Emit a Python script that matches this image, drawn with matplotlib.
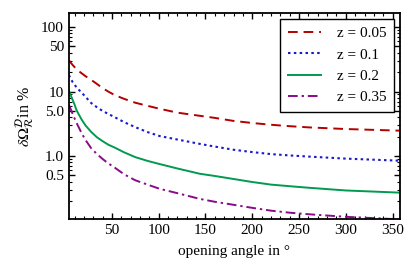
import matplotlib
matplotlib.use("Agg")
import matplotlib.pyplot as plt
from matplotlib.ticker import FixedLocator, FixedFormatter, MultipleLocator, LogLocator, NullFormatter

plt.rcParams['font.family'] = ['Liberation Serif', 'DejaVu Serif']
plt.rcParams['mathtext.fontset'] = 'stix'

# opening angle (degrees) and relative error in percent
angle = [4, 6, 8, 10, 12, 15, 18, 22, 28, 34, 40, 46, 53, 63, 75, 88, 101, 120,
         144, 160, 180, 200, 220, 240, 260, 300, 358]
err_005 = [30.5, 28.0, 25.8, 24.0, 22.3, 20.5, 19.0, 17.2, 15.1, 13.1, 11.3, 10.0, 8.8, 7.7,
           6.7, 6.0, 5.4, 4.7, 4.2, 3.9, 3.5, 3.25, 3.05, 2.9, 2.78, 2.62, 2.47]
err_01 = [18.0, 15.8, 14.0, 12.8, 11.7, 10.5, 9.5, 8.2, 6.6, 5.7, 5.0, 4.5, 4.0, 3.35,
          2.8, 2.35, 2.04, 1.8, 1.54, 1.4, 1.25, 1.15, 1.07, 1.02, 0.98, 0.91, 0.845]
err_02 = [10.2, 8.7, 7.4, 6.3, 5.2, 4.3, 3.6, 2.95, 2.35, 1.95, 1.7, 1.5, 1.35, 1.14,
          0.96, 0.84, 0.75, 0.64, 0.53, 0.49, 0.44, 0.395, 0.36, 0.34, 0.322, 0.292, 0.27]
err_035 = [6.2, 5.3, 4.5, 3.85, 3.3, 2.7, 2.2, 1.75, 1.31, 1.07, 0.9, 0.77, 0.66, 0.52,
           0.42, 0.36, 0.31, 0.265, 0.216, 0.195, 0.175, 0.157, 0.142, 0.132, 0.125, 0.114, 0.104]

labels = ['z = 0.05', 'z = 0.1', 'z = 0.2', 'z = 0.35']
yticks = [0.5, 1.0, 5.0, 10, 50, 100]
ytick_labels = ['0.5', '1.0', '5.0', '10', '50', '100']
xticks = [50, 100, 150, 200, 250, 300, 350]

fig = plt.figure(figsize=(4.15, 2.77), dpi=100)
ax = fig.add_axes([0.166, 0.209, 0.798, 0.744])

ax.plot(angle, err_005, color='#b30000', lw=1.4, ls=(0, (5, 3)), label=labels[0])
ax.plot(angle, err_01, color='#1a1acc', lw=1.5, ls=(0, (1.2, 1.6)), label=labels[1])
ax.plot(angle, err_02, color='#009a50', lw=1.4, ls='-', label=labels[2])
ax.plot(angle, err_035, color='#8a0a8a', lw=1.4, ls=(0, (5, 2, 1.2, 2)), label=labels[3])

ax.set_yscale('log')
ax.set_xlim(4, 358)
ax.set_ylim(0.105, 165)

ax.yaxis.set_major_locator(FixedLocator(yticks))
ax.yaxis.set_major_formatter(FixedFormatter(ytick_labels))
ax.yaxis.set_minor_locator(LogLocator(base=10, subs=[1, 2, 3, 4, 6, 7, 8, 9]))
ax.yaxis.set_minor_formatter(NullFormatter())
ax.xaxis.set_major_locator(FixedLocator(xticks))
ax.xaxis.set_minor_locator(MultipleLocator(10))

ax.tick_params(which='both', direction='in', top=True, right=True, labelsize=11, colors='black')
ax.tick_params(which='major', length=4, width=1)
ax.tick_params(which='minor', length=2, width=0.8)
for s in ax.spines.values():
    s.set_linewidth(1.3)

ax.set_xlabel('opening angle in °', fontsize=11, labelpad=6)
ax.set_ylabel(r'$\delta\Omega_{\mathcal{R}}^{\mathcal{D}}$in %', fontsize=11.5, labelpad=4)

leg = ax.legend(loc='upper right', fontsize=11, frameon=True, fancybox=False,
                edgecolor='black', framealpha=1, handlelength=2.2, handletextpad=1.0,
                borderpad=0.5, labelspacing=0.5, borderaxespad=0.4)
leg.get_frame().set_linewidth(1.0)

fig.savefig('out.png', dpi=100)
